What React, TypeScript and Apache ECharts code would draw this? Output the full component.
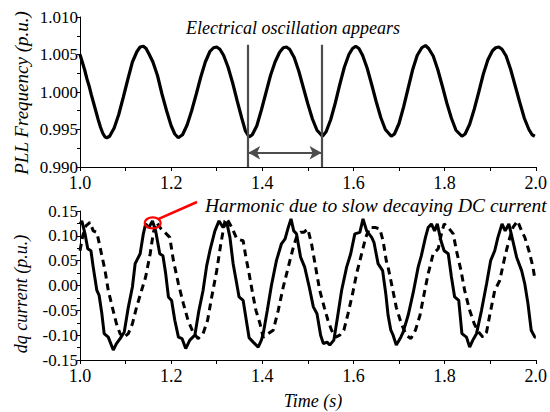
import React, { useEffect, useRef } from "react";
import * as echarts from "echarts";

// ---- Data ----
const timeTicks = [1.0, 1.2, 1.4, 1.6, 1.8, 2.0];

// PLL frequency (p.u.) vs time (s)
const pllFrequency: [number, number][] = [
  [1.000, 1.0050], [1.005, 1.0040], [1.010, 1.0030], [1.015, 1.0018], [1.020, 1.0008],
  [1.025, 0.9996], [1.030, 0.9985], [1.035, 0.9974], [1.040, 0.9963], [1.045, 0.9953],
  [1.050, 0.9945], [1.055, 0.9940], [1.059, 0.9939], [1.065, 0.9941], [1.075, 0.9952],
  [1.085, 0.9970], [1.095, 0.9993], [1.105, 1.0017], [1.115, 1.0040], [1.125, 1.0054],
  [1.132, 1.0060], [1.139, 1.0061], [1.145, 1.0058], [1.152, 1.0050], [1.160, 1.0040],
  [1.170, 1.0022], [1.180, 0.9997], [1.190, 0.9975], [1.200, 0.9955], [1.208, 0.9944],
  [1.2156, 0.9939], [1.225, 0.9943], [1.235, 0.9956], [1.245, 0.9975], [1.255, 0.9997],
  [1.265, 1.0020], [1.275, 1.0040], [1.285, 1.0054], [1.293, 1.0059], [1.300, 1.0060],
  [1.307, 1.0057], [1.315, 1.0049], [1.325, 1.0033], [1.335, 1.0012], [1.345, 0.9988],
  [1.355, 0.9965], [1.363, 0.9948], [1.371, 0.9940], [1.378, 0.9943], [1.388, 0.9955],
  [1.398, 0.9976], [1.408, 0.9999], [1.418, 1.0022], [1.428, 1.0040], [1.438, 1.0053],
  [1.446, 1.0059], [1.453, 1.0060], [1.460, 1.0057], [1.470, 1.0046], [1.480, 1.0028],
  [1.490, 1.0006], [1.500, 0.9984], [1.510, 0.9964], [1.520, 0.9949], [1.532, 0.9941],
  [1.540, 0.9947], [1.550, 0.9963], [1.560, 0.9985], [1.570, 1.0010], [1.580, 1.0033],
  [1.590, 1.0050], [1.598, 1.0058], [1.605, 1.0061], [1.612, 1.0058], [1.620, 1.0049],
  [1.630, 1.0032], [1.640, 1.0010], [1.650, 0.9987], [1.660, 0.9966], [1.670, 0.9950],
  [1.683, 0.9941], [1.690, 0.9944], [1.700, 0.9958], [1.710, 0.9980], [1.720, 1.0005],
  [1.730, 1.0030], [1.740, 1.0049], [1.750, 1.0059], [1.758, 1.0062], [1.765, 1.0058],
  [1.775, 1.0048], [1.785, 1.0030], [1.795, 1.0008], [1.805, 0.9985], [1.815, 0.9965],
  [1.825, 0.9949], [1.838, 0.9941], [1.845, 0.9944], [1.855, 0.9957], [1.865, 0.9977],
  [1.875, 1.0000], [1.885, 1.0024], [1.895, 1.0043], [1.905, 1.0055], [1.912, 1.0059],
  [1.919, 1.0060], [1.926, 1.0057], [1.935, 1.0048], [1.945, 1.0030], [1.955, 1.0008],
  [1.965, 0.9986], [1.975, 0.9965], [1.985, 0.9950], [1.992, 0.9943], [1.998, 0.9941],
];

// dq current (p.u.) – solid trace
const currentSolid: [number, number][] = [
  [1.000, 0.124], [1.004, 0.130], [1.011, 0.104], [1.017, 0.074], [1.024, 0.070],
  [1.029, 0.037], [1.037, -0.010], [1.042, -0.020], [1.048, -0.057], [1.053, -0.097],
  [1.062, -0.104], [1.073, -0.130], [1.080, -0.117], [1.088, -0.107], [1.097, -0.094],
  [1.106, -0.044], [1.115, -0.003], [1.121, 0.044], [1.132, 0.064], [1.139, 0.104],
  [1.144, 0.124], [1.151, 0.117], [1.159, 0.130], [1.166, 0.110], [1.175, 0.064],
  [1.182, 0.060], [1.188, 0.024], [1.194, -0.023], [1.201, -0.030], [1.208, -0.070],
  [1.216, -0.104], [1.224, -0.107], [1.232, -0.127], [1.241, -0.110], [1.252, -0.100],
  [1.261, -0.050], [1.270, -0.010], [1.278, 0.040], [1.285, 0.070], [1.296, 0.110],
  [1.305, 0.130], [1.314, 0.117], [1.322, 0.127], [1.329, 0.097], [1.336, 0.044],
  [1.344, 0.003], [1.349, -0.023], [1.358, -0.030], [1.364, -0.065], [1.371, -0.105],
  [1.380, -0.114], [1.391, -0.124], [1.398, -0.110], [1.402, -0.097], [1.411, -0.050],
  [1.420, 0.000], [1.431, 0.050], [1.442, 0.084], [1.450, 0.094], [1.457, 0.117],
  [1.463, 0.134], [1.469, 0.110], [1.475, 0.104], [1.484, 0.057], [1.493, 0.037],
  [1.503, -0.003], [1.512, -0.043], [1.520, -0.057], [1.528, -0.100], [1.534, -0.117],
  [1.542, -0.114], [1.548, -0.120], [1.557, -0.110], [1.564, -0.070], [1.574, -0.010],
  [1.585, 0.037], [1.594, 0.064], [1.603, 0.104], [1.614, 0.107], [1.621, 0.134],
  [1.629, 0.110], [1.640, 0.097], [1.645, 0.087], [1.654, 0.044], [1.664, 0.030],
  [1.671, -0.017], [1.676, -0.060], [1.682, -0.090], [1.687, -0.100], [1.694, -0.120],
  [1.704, -0.104], [1.709, -0.094], [1.720, -0.060], [1.731, -0.015], [1.742, 0.037],
  [1.749, 0.060], [1.758, 0.097], [1.764, 0.117], [1.771, 0.124], [1.778, 0.110],
  [1.784, 0.124], [1.792, 0.090], [1.799, 0.070], [1.808, 0.064], [1.815, 0.017],
  [1.822, -0.023], [1.831, -0.030], [1.838, -0.097], [1.848, -0.104], [1.855, -0.124],
  [1.862, -0.110], [1.870, -0.097], [1.881, -0.050], [1.892, 0.003], [1.901, 0.050],
  [1.910, 0.070], [1.917, 0.097], [1.926, 0.124], [1.933, 0.110], [1.941, 0.124],
  [1.948, 0.097], [1.958, 0.057], [1.969, 0.030], [1.976, 0.003], [1.983, -0.037],
  [1.990, -0.090], [1.998, -0.104], [2.000, -0.104],
];

// dq current (p.u.) – dashed trace
const currentDashed: [number, number][] = [
  [1.000, 0.070], [1.006, 0.100], [1.013, 0.120], [1.022, 0.127], [1.029, 0.110],
  [1.037, 0.107], [1.044, 0.077], [1.055, 0.030], [1.062, -0.010], [1.071, -0.044],
  [1.080, -0.077], [1.088, -0.097], [1.095, -0.105], [1.106, -0.097], [1.115, -0.077],
  [1.124, -0.044], [1.135, -0.010], [1.144, 0.017], [1.154, 0.064], [1.161, 0.107],
  [1.168, 0.127], [1.178, 0.114], [1.186, 0.107], [1.197, 0.097], [1.205, 0.050],
  [1.216, 0.003], [1.227, -0.037], [1.237, -0.070], [1.248, -0.094], [1.259, -0.107],
  [1.270, -0.097], [1.280, -0.070], [1.289, -0.023], [1.300, 0.030], [1.309, 0.084],
  [1.318, 0.130], [1.322, 0.135], [1.333, 0.117], [1.344, 0.094], [1.358, 0.090],
  [1.364, 0.057], [1.371, 0.024], [1.379, -0.017], [1.386, -0.050], [1.395, -0.077],
  [1.402, -0.104], [1.413, -0.097], [1.424, -0.090], [1.435, -0.050], [1.446, -0.003],
  [1.457, 0.037], [1.468, 0.077], [1.475, 0.097], [1.484, 0.107], [1.491, 0.107],
  [1.500, 0.114], [1.508, 0.084], [1.517, 0.037], [1.526, -0.010], [1.536, -0.044],
  [1.544, -0.070], [1.552, -0.090], [1.561, -0.104], [1.570, -0.100], [1.579, -0.090],
  [1.588, -0.057], [1.598, -0.017], [1.607, 0.024], [1.618, 0.064], [1.627, 0.097],
  [1.636, 0.117], [1.647, 0.117], [1.658, 0.114], [1.665, 0.090], [1.672, 0.050],
  [1.676, 0.037], [1.685, -0.003], [1.694, -0.044], [1.705, -0.077], [1.716, -0.100],
  [1.726, -0.107], [1.736, -0.090], [1.746, -0.060], [1.755, -0.017], [1.764, 0.024],
  [1.775, 0.064], [1.786, 0.074], [1.793, 0.104], [1.799, 0.124], [1.808, 0.117],
  [1.819, 0.104], [1.826, 0.070], [1.836, 0.030], [1.844, -0.010], [1.855, -0.050],
  [1.865, -0.077], [1.875, -0.094], [1.884, -0.104], [1.892, -0.094], [1.899, -0.060],
  [1.910, -0.010], [1.921, 0.010], [1.932, 0.057], [1.941, 0.090], [1.950, 0.117],
  [1.960, 0.130], [1.969, 0.110], [1.976, 0.097], [1.985, 0.070], [1.994, 0.037],
  [1.998, 0.013],
];

// annotation anchors (data coordinates)
const oscillationMarkers = [1.369, 1.530]; // vertical lines (s)
const markerTop = 1.0063;
const arrowLevel = 0.9919;
const harmonicSpot: [number, number] = [1.1595, 0.126];

const SERIF = "Liberation Serif, Times New Roman, serif";

export default function App() {
  const ref = useRef<HTMLDivElement>(null);

  useEffect(() => {
    if (!ref.current) return;
    document.body.style.margin = "0";
    const chart = echarts.init(ref.current, null, { renderer: "svg" });

    const xAxisBase = (gridIndex: number) => ({
      type: "value" as const,
      gridIndex,
      min: 1.0,
      max: 2.0,
      interval: 0.2,
      axisLine: { show: true, onZero: false, lineStyle: { color: "#000", width: 1 } },
      axisTick: { show: true, length: 4, lineStyle: { color: "#000" } },
      minorTick: { show: true, splitNumber: 2, length: 4, lineStyle: { color: "#000" } },
      splitLine: { show: false },
      axisLabel: {
        color: "#000",
        fontFamily: SERIF,
        fontSize: 18,
        margin: 7,
        formatter: (v: number) => v.toFixed(1),
      },
    });

    const fmt = (d: number) => (v: number) => {
      const r = Math.abs(v) < 1e-9 ? 0 : v;
      return r.toFixed(d);
    };

    chart.setOption({
      animation: false,
      backgroundColor: "#fff",
      grid: [
        { left: 80, top: 17, width: 456, height: 150 },
        { left: 80, top: 211, width: 456, height: 149 },
      ],
      xAxis: [xAxisBase(0), xAxisBase(1)],
      yAxis: [
        {
          type: "value",
          gridIndex: 0,
          min: 0.99,
          max: 1.01,
          interval: 0.005,
          axisLine: { show: true, lineStyle: { color: "#000", width: 1 } },
          axisTick: { show: true, length: 3, lineStyle: { color: "#000" } },
          minorTick: { show: true, splitNumber: 2, length: 3, lineStyle: { color: "#000" } },
          splitLine: { show: false },
          axisLabel: { color: "#000", fontFamily: SERIF, fontSize: 17, margin: 2, formatter: fmt(3) },
        },
        {
          type: "value",
          gridIndex: 1,
          min: -0.15,
          max: 0.15,
          interval: 0.05,
          axisLine: { show: true, lineStyle: { color: "#000", width: 1 } },
          axisTick: { show: true, length: 3, lineStyle: { color: "#000" } },
          minorTick: { show: true, splitNumber: 2, length: 3, lineStyle: { color: "#000" } },
          splitLine: { show: false },
          axisLabel: { color: "#000", fontFamily: SERIF, fontSize: 17, margin: 2, formatter: fmt(2) },
        },
      ],
      series: [
        {
          type: "line",
          xAxisIndex: 0,
          yAxisIndex: 0,
          data: pllFrequency,
          showSymbol: false,
          lineStyle: { color: "#000", width: 3.2 },
          markLine: {
            silent: true,
            symbol: ["none", "none"],
            label: { show: false },
            lineStyle: { color: "#4d4d4d", width: 2.2, type: "solid" },
            data: [
              ...oscillationMarkers.map((t) => [
                { coord: [t, 0.99] },
                { coord: [t, markerTop] },
              ]),
              [
                { coord: [oscillationMarkers[0], arrowLevel], symbol: "arrow", symbolSize: [10, 12] },
                { coord: [oscillationMarkers[1], arrowLevel], symbol: "arrow", symbolSize: [10, 12] },
              ],
            ],
          },
        },
        {
          type: "line",
          xAxisIndex: 1,
          yAxisIndex: 1,
          data: currentDashed,
          showSymbol: false,
          lineStyle: { color: "#000", width: 3, type: [7, 5] },
        },
        {
          type: "line",
          xAxisIndex: 1,
          yAxisIndex: 1,
          data: currentSolid,
          showSymbol: false,
          lineStyle: { color: "#000", width: 3 },
        },
      ],
    });

    const spot = chart.convertToPixel({ gridIndex: 1 }, harmonicSpot) as number[];
    const cx = spot[0];
    const cy = spot[1];

    chart.setOption({
      graphic: [
        {
          type: "text",
          x: 293,
          y: 28,
          style: {
            text: "Electrical oscillation appears",
            fontFamily: SERIF,
            fontStyle: "italic",
            fontSize: 18,
            fill: "#000",
            textAlign: "center",
            textVerticalAlign: "middle",
          },
        },
        {
          type: "text",
          x: 21,
          y: 93,
          rotation: Math.PI / 2,
          style: {
            text: "PLL Frequency (p.u.)",
            fontFamily: SERIF,
            fontStyle: "italic",
            fontSize: 19,
            fill: "#000",
            textAlign: "center",
            textVerticalAlign: "middle",
          },
        },
        {
          type: "text",
          x: 21,
          y: 294,
          rotation: Math.PI / 2,
          style: {
            text: "dq current (p.u.)",
            fontFamily: SERIF,
            fontStyle: "italic",
            fontSize: 18,
            fill: "#000",
            textAlign: "center",
            textVerticalAlign: "middle",
          },
        },
        {
          type: "text",
          x: 313,
          y: 401,
          style: {
            text: "Time (s)",
            fontFamily: SERIF,
            fontStyle: "italic",
            fontSize: 18,
            fill: "#000",
            textAlign: "center",
            textVerticalAlign: "middle",
          },
        },
        {
          type: "text",
          x: 205,
          y: 205,
          style: {
            text: "Harmonic due to slow decaying DC current",
            fontFamily: SERIF,
            fontStyle: "italic",
            fontSize: 19.5,
            fill: "#000",
            textAlign: "left",
            textVerticalAlign: "middle",
          },
        },
        {
          type: "ellipse",
          shape: { cx, cy, rx: 8, ry: 5.5 },
          style: { fill: "none", stroke: "#ff0000", lineWidth: 2.2 },
          z: 10,
        },
        {
          type: "line",
          shape: { x1: cx + 6, y1: cy - 4, x2: 197, y2: 202 },
          style: { stroke: "#ff0000", lineWidth: 2.5 },
          z: 10,
        },
      ],
    });

    return () => chart.dispose();
  }, []);

  return <div ref={ref} style={{ width: 550, height: 412 }} />;
}
